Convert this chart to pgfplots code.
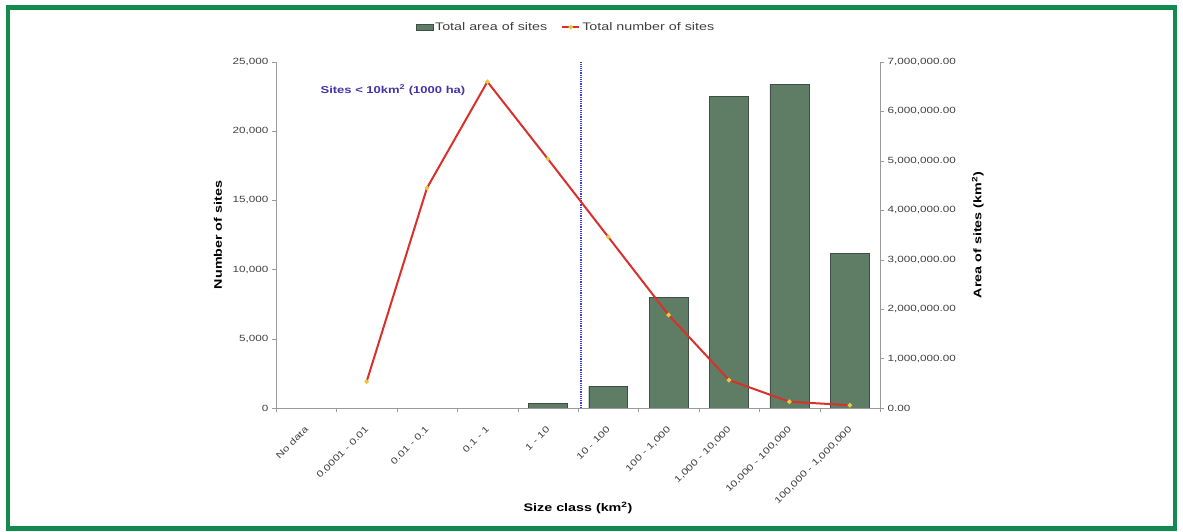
\documentclass[border=0pt]{standalone}
\usepackage{fontspec}
\setmainfont{Liberation Sans}[FakeStretch=1.3]
\usepackage{pgfplots}
\pgfplotsset{compat=1.18}

\definecolor{framegreen}{HTML}{138A4E}
\definecolor{barfill}{HTML}{5E7D64}
\definecolor{bardraw}{HTML}{3F4F45}
\definecolor{linered}{HTML}{D9302C}
\definecolor{markyel}{HTML}{E8C840}
\definecolor{annblue}{HTML}{4433AA}
\definecolor{dotblue}{HTML}{3A3AE8}
\definecolor{ticktext}{HTML}{404040}
\definecolor{axisgray}{HTML}{9A9A9A}

\pgfplotsset{
  common/.style={
    at={(276pt,124pt)}, anchor=south west,
    scale only axis, width=604pt, height=346pt,
    xmin=-0.5, xmax=9.5, ymin=0,
    axis line style={-, axisgray},
    tick style={axisgray}, tick align=outside,
    major tick length=4pt, minor tick length=4pt,
    tick label style={font=\fontsize{9}{10}\selectfont, text=ticktext},
    scaled y ticks=false,
  }
}

\begin{document}
\begin{tikzpicture}[x=1pt,y=1pt]
\useasboundingbox (0,0) rectangle (1183,532);
\draw[framegreen, line width=4.5pt] (8,3.5) rectangle (1175,524.5);

% bars: total area of sites (right axis)
\begin{axis}[
  common,
  ymax=7000000,
  axis y line*=right, axis x line*=bottom,
  xtick={0,...,9},
  xticklabels={No data, 0.0001 - 0.01, 0.01 - 0.1, 0.1 - 1, 1 - 10, 10 - 100,
    {100 - 1,000}, {1,000 - 10,000}, {10,000 - 100,000}, {100,000 - 1,000,000}},
  major x tick style={draw=none},
  minor xtick={-0.5,0.5,...,9.5},
  xticklabel style={rotate=45, anchor=north east, inner sep=0pt, xshift=-11pt, yshift=-8pt},
  ytick={0,1000000,...,7000000},
  yticklabel style={/pgf/number format/.cd, fixed, fixed zerofill, precision=2,
    1000 sep={,}, assume math mode=true},
  xlabel={Size class (km\textsuperscript{2})},
  ylabel={Area of sites (km\textsuperscript{2})},
  every axis x label/.style={at={(axis description cs:0.5,-0.289)}, anchor=center,
    font=\bfseries\fontsize{11}{13}\selectfont},
  every axis y label/.style={at={(axis description cs:1.162,0.5)}, rotate=90, anchor=center,
    font=\bfseries\fontsize{11}{13}\selectfont},
]
\addplot[ybar, bar width=0.645, fill=barfill, draw=bardraw] coordinates {
  (4,90000) (5,445000) (6,2240000) (7,6310000) (8,6550000) (9,3130000)
};
\end{axis}

% line: total number of sites (left axis)
\begin{axis}[
  common,
  ymax=25000,
  axis y line*=left, axis x line=none,
  ytick={0,5000,...,25000},
  yticklabel style={/pgf/number format/.cd, fixed, 1000 sep={,}, assume math mode=true},
  ylabel={Number of sites},
  every axis y label/.style={at={(axis description cs:-0.096,0.5)}, rotate=90, anchor=center,
    font=\bfseries\fontsize{11}{13}\selectfont},
  legend style={at={(axis description cs:0.48,1.101)}, anchor=center, draw=none,
    fill=none, legend columns=-1, font=\fontsize{11}{13}\selectfont, text=ticktext,
    /tikz/every even column/.append style={column sep=12pt}},
]
\addlegendimage{area legend, fill=barfill, draw=bardraw}
\addlegendentry{Total area of sites}
\draw[dotblue, densely dotted, line width=1.2pt] (axis cs:4.55,0) -- (axis cs:4.55,25000);
\addplot[linered, line width=2pt, mark=*, mark size=1.1pt,
  mark options={fill=markyel, draw=markyel}] coordinates {
  (1,1900) (2,15900) (3,23575) (4,18000) (5,12360) (6,6720) (7,2020) (8,455) (9,200)
};
\addlegendentry{Total number of sites}
\node[anchor=west, text=annblue, font=\bfseries\fontsize{10}{12}\selectfont]
  at (axis cs:0.18,22980) {Sites < 10km\textsuperscript{2} (1000 ha)};
\end{axis}
\end{tikzpicture}
\end{document}
